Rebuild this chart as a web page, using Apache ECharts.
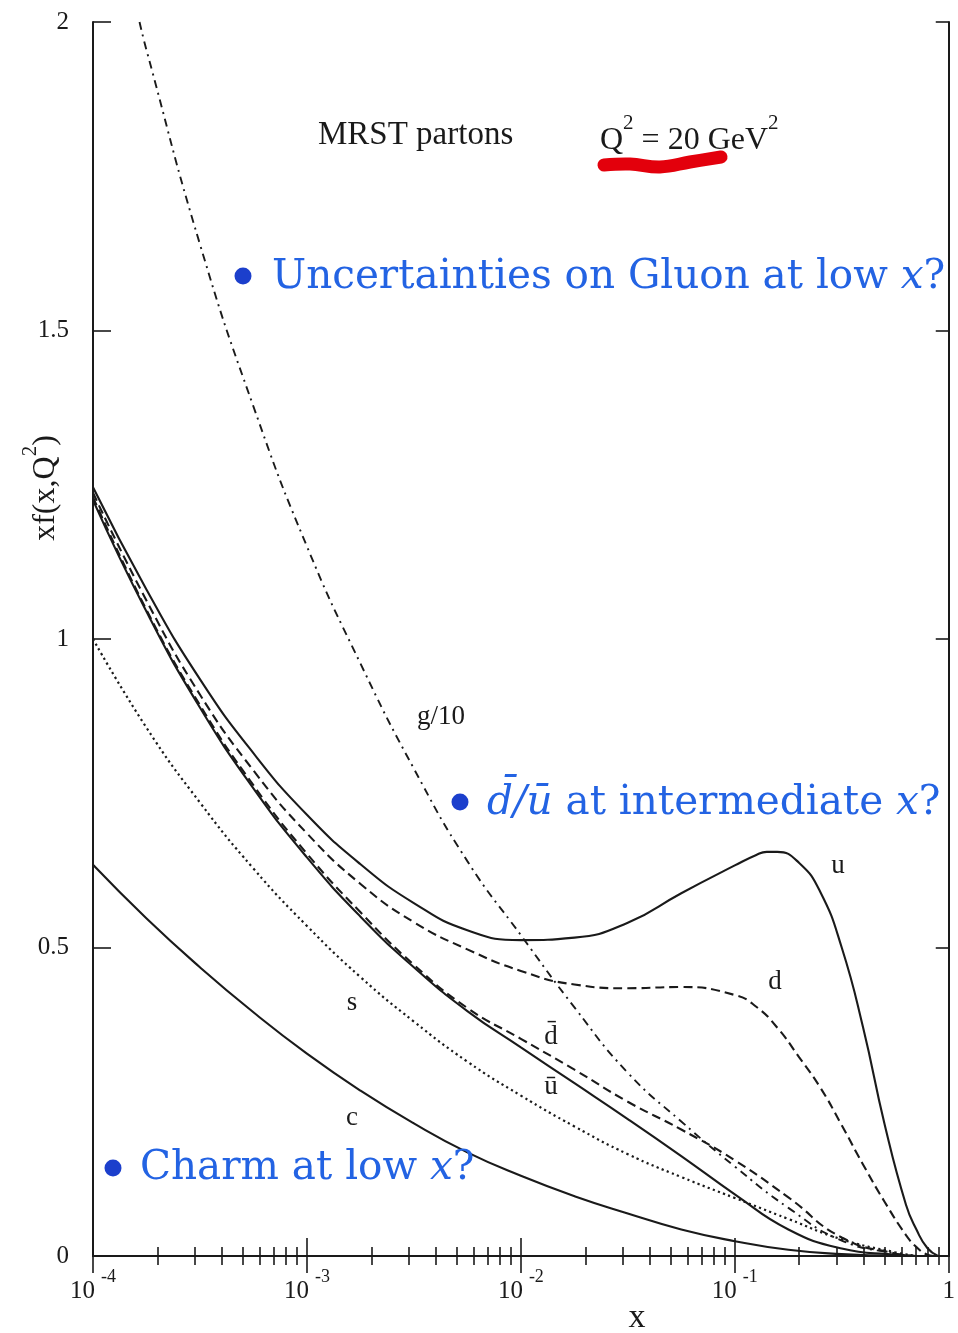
<!DOCTYPE html>
<html>
<head>
<meta charset="utf-8">
<script src="https://cdn.jsdelivr.net/npm/echarts@6/dist/echarts.min.js"></script>
<style>
  html, body { margin: 0; padding: 0; background: #ffffff; }
  #chart { width: 958px; height: 1333px; }
</style>
</head>
<body>
<div id="chart"></div>
<script>
// MRST parton distributions x f(x, Q^2) at Q^2 = 20 GeV^2, as [x, xf] pairs.
const upQuark = [[1e-4,1.246],[1.78e-4,1.08],[3.16e-4,0.935],[5.62e-4,0.815],[1e-3,0.715],[1.78e-3,0.635],[3.16e-3,0.572],[5.62e-3,0.528],[1e-2,0.512],[1.78e-2,0.516],[3.16e-2,0.54],[5.62e-2,0.588],[0.1,0.633],[0.126,0.65],[0.141,0.655],[0.158,0.655],[0.2,0.637],[0.251,0.59],[0.316,0.50],[0.398,0.37],[0.501,0.214],[0.631,0.083],[0.708,0.042],[0.794,0.013],[0.891,0]];
const downQuark = [[1e-4,1.237],[1.78e-4,1.062],[3.16e-4,0.91],[5.62e-4,0.787],[1e-3,0.685],[1.78e-3,0.603],[3.16e-3,0.541],[5.62e-3,0.497],[1e-2,0.462],[1.78e-2,0.44],[3.16e-2,0.434],[5.62e-2,0.436],[0.1,0.423],[0.126,0.404],[0.158,0.37],[0.2,0.322],[0.251,0.273],[0.316,0.212],[0.398,0.148],[0.501,0.088],[0.631,0.034],[0.708,0.014],[0.794,0.002],[0.85,0]];
const antiDown = [[1e-4,1.23],[1.78e-4,1.047],[3.16e-4,0.893],[5.62e-4,0.763],[1e-3,0.652],[1.78e-3,0.557],[3.16e-3,0.472],[5.62e-3,0.402],[1e-2,0.352],[1.78e-2,0.302],[3.16e-2,0.25],[5.62e-2,0.205],[0.1,0.155],[0.178,0.095],[0.316,0.03],[0.562,0.004],[0.708,0]];
const antiUp = [[1e-4,1.225],[1.78e-4,1.044],[3.16e-4,0.889],[5.62e-4,0.758],[1e-3,0.646],[1.78e-3,0.55],[3.16e-3,0.468],[5.62e-3,0.397],[1e-2,0.338],[1.78e-2,0.28],[3.16e-2,0.222],[5.62e-2,0.162],[0.1,0.10],[0.178,0.043],[0.316,0.012],[0.562,0.002],[0.708,0]];
const strange = [[1e-4,1.0],[1.78e-4,0.856],[3.16e-4,0.735],[5.62e-4,0.628],[1e-3,0.535],[1.78e-3,0.452],[3.16e-3,0.38],[5.62e-3,0.315],[1e-2,0.26],[1.78e-2,0.21],[3.16e-2,0.165],[5.62e-2,0.128],[0.1,0.094],[0.178,0.06],[0.316,0.027],[0.562,0.006],[0.708,0]];
const charm = [[1e-4,0.634],[1.78e-4,0.547],[3.16e-4,0.468],[5.62e-4,0.395],[1e-3,0.328],[1.78e-3,0.268],[3.16e-3,0.215],[5.62e-3,0.168],[1e-2,0.13],[1.78e-2,0.097],[3.16e-2,0.069],[5.62e-2,0.043],[0.1,0.024],[0.178,0.01],[0.316,0.003],[0.562,0]];
const gluonOver10 = [[1.65e-4,2.0],[1.78e-4,1.954],[3.16e-4,1.64],[5.62e-4,1.377],[1e-3,1.15],[1.78e-3,0.96],[3.16e-3,0.79],[5.62e-3,0.64],[1e-2,0.52],[1.78e-2,0.403],[3.16e-2,0.297],[5.62e-2,0.218],[0.1,0.145],[0.178,0.078],[0.316,0.025],[0.562,0.004],[0.708,0]];

// Axis ranges
const xRange = [1e-4, 1];
const yRange = [0, 2];
const yStep = 0.5;

const INK = '#1a1a1a';
const SERIF = '"Liberation Serif", "Times New Roman", serif';
const MATH = '"DejaVu Serif", serif';
const BLUE = '#2363e3';
const BULLET = '#1c3fcc';
const NOTE_SIZE = 40.5;

const chart = echarts.init(document.getElementById('chart'), null, { renderer: 'canvas' });

function curve(name, data, type, width) {
  return {
    name: name,
    type: 'line',
    data: data,
    xAxisIndex: 0,
    yAxisIndex: 0,
    showSymbol: false,
    symbol: 'none',
    smooth: 0.5,
    clip: true,
    lineStyle: { color: INK, width: width || 2.1, type: type, cap: 'butt' },
    z: 3
  };
}

const frameLine = { show: true, lineStyle: { color: INK, width: 2 } };

function logLabel(v) {
  const e = Math.round(Math.log10(v));
  return e === 0 ? '{b|1}' : '{b|10}{s|' + e + '}';
}

function note(x, y, text) {
  return {
    type: 'text', x: x, y: y, z: 10,
    style: {
      text: text,
      align: 'left', verticalAlign: 'middle', textAlign: 'left', textVerticalAlign: 'middle',
      rich: {
        n: { font: NOTE_SIZE + 'px ' + MATH, fill: BLUE },
        i: { font: 'italic ' + NOTE_SIZE + 'px ' + MATH, fill: BLUE }
      }
    }
  };
}

function tag(x, y, text) {
  return {
    type: 'text', x: x, y: y, z: 10,
    style: { text: text, font: '27px ' + SERIF, fill: INK, align: 'center', verticalAlign: 'middle', textAlign: 'center', textVerticalAlign: 'middle' }
  };
}

const option = {
  animation: false,
  backgroundColor: '#ffffff',
  grid: { left: 93, top: 22, width: 864, height: 1234, containLabel: false },
  xAxis: [
    {
      type: 'log', logBase: 10, min: xRange[0], max: xRange[1],
      position: 'bottom',
      axisLine: frameLine,
      axisTick: { show: true, inside: true, length: 18, lineStyle: { color: INK, width: 1.6 } },
      minorTick: { show: true, splitNumber: 9, length: 9, lineStyle: { color: INK, width: 1.6 } },
      splitLine: { show: false },
      minorSplitLine: { show: false },
      axisLabel: {
        show: true, margin: 12, formatter: logLabel,
        rich: {
          b: { fontFamily: SERIF, fontSize: 25, color: INK, verticalAlign: 'bottom', lineHeight: 36 },
          s: { fontFamily: SERIF, fontSize: 18, color: INK, verticalAlign: 'top', lineHeight: 36, padding: [0, 0, 0, 6] }
        }
      }
    },
    {
      type: 'log', logBase: 10, min: xRange[0], max: xRange[1],
      position: 'top',
      axisLine: frameLine,
      axisTick: { show: true, inside: true, length: 17, lineStyle: { color: INK, width: 1.6 } },
      minorTick: { show: true, splitNumber: 9, length: 9, lineStyle: { color: INK, width: 1.6 } },
      splitLine: { show: false },
      axisLabel: { show: false }
    }
  ],
  yAxis: [
    {
      type: 'value', min: yRange[0], max: yRange[1], interval: yStep,
      position: 'left',
      axisLine: frameLine,
      axisTick: { show: true, inside: true, length: 18, lineStyle: { color: INK, width: 1.6 } },
      splitLine: { show: false },
      axisLabel: { show: true, margin: 24, fontFamily: SERIF, fontSize: 25, color: INK }
    },
    {
      type: 'value', min: yRange[0], max: yRange[1], interval: yStep,
      position: 'right',
      axisLine: frameLine,
      axisTick: { show: true, inside: true, length: 13, lineStyle: { color: INK, width: 1.6 } },
      splitLine: { show: false },
      axisLabel: { show: false }
    }
  ],
  series: [
    curve('g/10', gluonOver10, [8, 5, 2, 5], 1.9),
    curve('u', upQuark, 'solid'),
    curve('d', downQuark, [9, 5]),
    curve('dbar', antiDown, [9, 5]),
    curve('ubar', antiUp, 'solid'),
    curve('s', strange, [2.2, 3.3], 2.2),
    curve('c', charm, 'solid')
  ],
  graphic: [
    // heading
    { type: 'text', x: 318, y: 135, z: 10,
      style: { text: 'MRST partons', font: '33px ' + SERIF, fill: INK, align: 'left', verticalAlign: 'middle', textAlign: 'left', textVerticalAlign: 'middle' } },
    { type: 'polyline', z: 9,
      shape: { points: [[604, 165], [630, 164], [660, 167], [690, 162], [721, 157]], smooth: 0.4 },
      style: { stroke: '#e3000c', lineWidth: 13, lineCap: 'round', lineJoin: 'round', fill: null } },
    { type: 'text', x: 600, y: 135, z: 10,
      style: {
        text: '{n|Q}{s|2}{n| = 20 GeV}{s|2}',
        align: 'left', verticalAlign: 'middle', textAlign: 'left', textVerticalAlign: 'middle',
        rich: {
          n: { font: '32px ' + SERIF, fill: INK, verticalAlign: 'bottom', lineHeight: 44 },
          s: { font: '21px ' + SERIF, fill: INK, verticalAlign: 'top', lineHeight: 44 }
        }
      } },

    // blue remarks
    { type: 'circle', z: 10, shape: { cx: 243, cy: 276, r: 8.5 }, style: { fill: BULLET } },
    note(272, 277, '{n|Uncertainties on Gluon at low }{i|x}{n|?}'),
    { type: 'circle', z: 10, shape: { cx: 460, cy: 802, r: 8.5 }, style: { fill: BULLET } },
    note(487, 803, '{i|d\u0304/\u016b}{n| at intermediate }{i|x}{n|?}'),
    { type: 'circle', z: 10, shape: { cx: 113, cy: 1168, r: 8.5 }, style: { fill: BULLET } },
    note(140, 1168, '{n|Charm at low }{i|x}{n|?}'),

    // curve names
    tag(441, 717, 'g/10'),
    tag(838, 866, 'u'),
    tag(775, 982, 'd'),
    tag(352, 1003, 's'),
    tag(551, 1037, 'd\u0304'),
    tag(551, 1087, '\u016b'),
    tag(352, 1118, 'c'),

    // axis titles
    { type: 'text', x: 41, y: 488, rotation: Math.PI / 2, z: 10,
      style: {
        text: '{n|xf(x,Q}{s|2}{n|)}',
        align: 'center', verticalAlign: 'middle', textAlign: 'center', textVerticalAlign: 'middle',
        rich: {
          n: { font: '32px ' + SERIF, fill: INK, verticalAlign: 'bottom', lineHeight: 42 },
          s: { font: '21px ' + SERIF, fill: INK, verticalAlign: 'top', lineHeight: 42 }
        }
      } },
    { type: 'text', x: 637, y: 1318, z: 10,
      style: { text: 'x', font: '34px ' + SERIF, fill: INK, align: 'center', verticalAlign: 'middle', textAlign: 'center', textVerticalAlign: 'middle' } }
  ]
};

chart.setOption(option);
</script>
</body>
</html>
